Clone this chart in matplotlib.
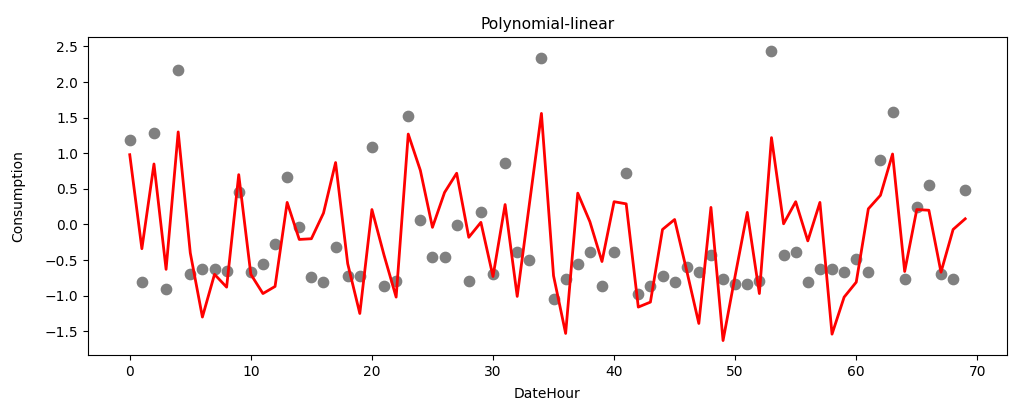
import matplotlib
matplotlib.use("Agg")
import matplotlib.pyplot as plt
import numpy as np

# hour index 0..69
hours = np.arange(70)

# actual consumption (grey dots)
actual = [1.19, -0.81, 1.28, -0.91, 2.17, -0.70, -0.62, -0.62, -0.65, 0.46,
          -0.67, -0.55, -0.28, 0.66, -0.04, -0.74, -0.81, -0.32, -0.73, -0.73,
          1.09, -0.86, -0.80, 1.53, 0.07, -0.46, -0.46, -0.01, -0.79, 0.18,
          -0.69, 0.87, -0.38, -0.50, 2.34, -1.05, -0.77, -0.56, -0.38, -0.87,
          -0.38, 0.73, -0.97, -0.86, -0.73, -0.81, -0.60, -0.67, -0.43, -0.77,
          -0.83, -0.83, -0.80, 2.43, -0.43, -0.38, -0.81, -0.63, -0.63, -0.67,
          -0.49, -0.67, 0.90, 1.58, -0.77, 0.24, 0.56, -0.69, -0.76, 0.49]

# polynomial-linear prediction (red line)
predicted = [0.98, -0.34, 0.85, -0.63, 1.30, -0.40, -1.30, -0.70, -0.88, 0.70,
             -0.70, -0.97, -0.87, 0.31, -0.21, -0.20, 0.16, 0.87, -0.55, -1.25,
             0.21, -0.43, -1.02, 1.27, 0.76, -0.04, 0.45, 0.72, -0.18, 0.03,
             -0.73, 0.28, -1.01, 0.28, 1.56, -0.72, -1.53, 0.44, 0.04, -0.52,
             0.32, 0.29, -1.16, -1.09, -0.07, 0.07, -0.65, -1.39, 0.24, -1.63,
             -0.72, 0.17, -0.97, 1.22, 0.01, 0.32, -0.23, 0.31, -1.54, -1.02,
             -0.81, 0.22, 0.41, 0.99, -0.66, 0.21, 0.20, -0.67, -0.07, 0.08]

fig = plt.figure(figsize=(10.09, 4.01), dpi=100)
ax = fig.add_axes([0.0872, 0.1147, 0.9108, 0.793])

ax.scatter(hours, actual, color="grey", s=55, zorder=2)
ax.plot(hours, predicted, color="red", linewidth=2, zorder=3)

ax.set_title("Polynomial-linear", fontsize=11.2)
ax.set_xlabel("DateHour", labelpad=6)
ax.set_ylabel("Consumption", labelpad=14)

fig.savefig("out.png", dpi=100)
